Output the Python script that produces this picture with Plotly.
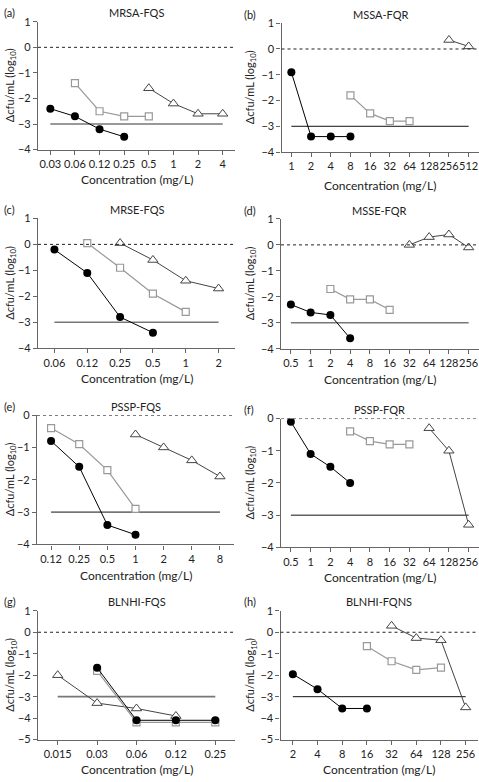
import plotly.graph_objects as go

N = None
# ---------------- data ----------------
a_conc = ["0.03", "0.06", "0.12", "0.25", "0.5", "1", "2", "4"]
a_circle = [-2.4, -2.7, -3.2, -3.5, N, N, N, N]
a_square = [N, -1.4, -2.5, -2.7, -2.7, N, N, N]
a_triangle = [N, N, N, N, -1.6, -2.2, -2.6, -2.6]

b_conc = ["1", "2", "4", "8", "16", "32", "64", "128", "256", "512"]
b_circle = [-0.9, -3.4, -3.4, -3.4, N, N, N, N, N, N]
b_square = [N, N, N, -1.8, -2.5, -2.8, -2.8, N, N, N]
b_triangle = [N, N, N, N, N, N, N, N, 0.35, 0.1]

c_conc = ["0.06", "0.12", "0.25", "0.5", "1", "2"]
c_circle = [-0.2, -1.1, -2.8, -3.4, N, N]
c_square = [N, 0.05, -0.9, -1.9, -2.6, N]
c_triangle = [N, N, 0.05, -0.6, -1.4, -1.7]

d_conc = ["0.5", "1", "2", "4", "8", "16", "32", "64", "128", "256"]
d_circle = [-2.3, -2.6, -2.7, -3.6, N, N, N, N, N, N]
d_square = [N, N, -1.7, -2.1, -2.1, -2.5, N, N, N, N]
d_triangle = [N, N, N, N, N, N, 0.0, 0.3, 0.4, -0.1]

e_conc = ["0.12", "0.25", "0.5", "1", "2", "4", "8"]
e_circle = [-0.8, -1.6, -3.4, -3.7, N, N, N]
e_square = [-0.4, -0.9, -1.7, -2.9, N, N, N]
e_triangle = [N, N, N, -0.6, -1.0, -1.4, -1.9]

f_conc = ["0.5", "1", "2", "4", "8", "16", "32", "64", "128", "256"]
f_circle = [-0.1, -1.1, -1.5, -2.0, N, N, N, N, N, N]
f_square = [N, N, N, -0.4, -0.7, -0.8, -0.8, N, N, N]
f_triangle = [N, N, N, N, N, N, N, -0.3, -1.0, -3.3]

g_conc = ["0.015", "0.03", "0.06", "0.12", "0.25"]
g_circle = [N, -1.65, -4.1, -4.1, -4.1]
g_square = [N, -1.8, -4.2, -4.2, -4.2]
g_triangle = [-2.0, -3.3, -3.55, -3.9, N]

h_conc = ["2", "4", "8", "16", "32", "64", "128", "256"]
h_circle = [-1.95, -2.65, -3.55, -3.55, N, N, N, N]
h_square = [N, N, N, -0.65, -1.35, -1.75, -1.65, N]
h_triangle = [N, N, N, N, 0.3, -0.27, -0.37, -3.5]

titles = ["MRSA-FQS", "MSSA-FQR", "MRSE-FQS", "MSSE-FQR",
          "PSSP-FQS", "PSSP-FQR", "BLNHI-FQS", "BLNHI-FQNS"]
labels = ["(a)", "(b)", "(c)", "(d)", "(e)", "(f)", "(g)", "(h)"]
y_ranges = [(-4, 1), (-4, 1), (-4, 1), (-4, 1), (-4, 0), (-4, 0), (-5, 1), (-5, 1)]
threshold = -3
x_title = "Concentration (mg/L)"
y_title = "Δcfu/mL (log<sub>10</sub>)"

panels = [
    (a_conc, a_circle, a_square, a_triangle),
    (b_conc, b_circle, b_square, b_triangle),
    (c_conc, c_circle, c_square, c_triangle),
    (d_conc, d_circle, d_square, d_triangle),
    (e_conc, e_circle, e_square, e_triangle),
    (f_conc, f_circle, f_square, f_triangle),
    (g_conc, g_circle, g_square, g_triangle),
    (h_conc, h_circle, h_square, h_triangle),
]

# ---------------- layout (pixels) ----------------
W, H = 479, 782
# (x0, x1, ytop, ybottom) of each plot area
boxes = [
    (38, 235, 15, 145), (281.5, 478.5, 16.5, 147.5),
    (38, 235, 215, 347), (281, 478.5, 215.5, 347.5),
    (37, 234, 415, 546.5), (281, 478.5, 418.5, 549.5),
    (38, 235, 614, 745), (280.5, 478, 614, 745),
]
xtitle_y = [175, 181.5, 377.5, 378.5, 578.5, 580, 775.5, 775.5]
thr_color = ["#777", "#111", "#777", "#777", "#111", "#111", "#777", "#111"]
thr_width = [1.6, 1, 1.6, 1.6, 1, 1, 1.6, 1]

FONT = "Lato"
fig = go.Figure()
annotations = []
shapes = []

for i, (conc, circ, sq, tri) in enumerate(panels):
    k = i + 1
    xa = "x" if k == 1 else f"x{k}"
    ya = "y" if k == 1 else f"y{k}"
    x0, x1, yt, yb = boxes[i]
    n = len(conc)
    # threshold line
    fig.add_trace(go.Scatter(x=[conc[0], conc[-1]], y=[threshold, threshold], mode="lines",
                             line=dict(color=thr_color[i], width=thr_width[i]),
                             xaxis=xa, yaxis=ya, showlegend=False, hoverinfo="skip"))
    fig.add_trace(go.Scatter(x=conc, y=tri, mode="lines+markers",
                             line=dict(color="#444", width=1),
                             marker=dict(symbol="triangle-up", size=9, color="white",
                                         line=dict(color="#444", width=1)),
                             xaxis=xa, yaxis=ya, showlegend=False))
    fig.add_trace(go.Scatter(x=conc, y=sq, mode="lines+markers",
                             line=dict(color="#999", width=1.2),
                             marker=dict(symbol="square", size=7, color="white",
                                         line=dict(color="#999", width=1.2)),
                             xaxis=xa, yaxis=ya, showlegend=False))
    fig.add_trace(go.Scatter(x=conc, y=circ, mode="lines+markers",
                             line=dict(color="black", width=1),
                             marker=dict(symbol="circle", size=8, color="black"),
                             xaxis=xa, yaxis=ya, showlegend=False))

    lo, hi = y_ranges[i]
    axcommon = dict(showgrid=False, zeroline=False, showline=True, linecolor="#666",
                    linewidth=1.2, ticks="outside", ticklen=4, tickcolor="#666",
                    tickfont=dict(family=FONT, size=11, color="#222"))
    fig.layout[("xaxis" if k == 1 else f"xaxis{k}")] = dict(
        axcommon, type="category", categoryarray=conc, categoryorder="array", tickangle=0,
        range=[-0.5, n - 0.5], domain=[x0 / W, x1 / W], anchor=ya, fixedrange=True)
    fig.layout[("yaxis" if k == 1 else f"yaxis{k}")] = dict(
        axcommon, range=[lo, hi], tickvals=list(range(lo, hi + 1)),
        domain=[1 - yb / H, 1 - yt / H], anchor=xa, fixedrange=True)

    # dotted zero line
    shapes.append(dict(type="line", xref=f"{xa} domain", yref=ya, x0=0, x1=1, y0=0, y1=0,
                       line=dict(color="#222", width=1, dash="dot")))

    cx = (x0 + x1) / 2
    col_left = 0 if x0 < 200 else 240
    # title
    annotations.append(dict(text=titles[i], x=cx / W, y=1 - (yt - 9) / H, xref="paper", yref="paper",
                            showarrow=False, font=dict(family=FONT, size=11, color="#222"),
                            xanchor="center", yanchor="middle"))
    annotations.append(dict(text=labels[i], x=(col_left + 2) / W, y=1 - (yt - 9) / H,
                            xref="paper", yref="paper", showarrow=False,
                            font=dict(family=FONT, size=11, color="#222"),
                            xanchor="left", yanchor="middle"))
    # axis titles
    annotations.append(dict(text=x_title, x=cx / W, y=1 - xtitle_y[i] / H, xref="paper", yref="paper",
                            showarrow=False, font=dict(family=FONT, size=12, color="#222"),
                            xanchor="center", yanchor="middle"))
    annotations.append(dict(text=y_title, x=(col_left + 10.5) / W, y=1 - ((yt + yb) / 2) / H,
                            xref="paper", yref="paper", showarrow=False, textangle=-90,
                            font=dict(family=FONT, size=11, color="#222"),
                            xanchor="center", yanchor="middle"))

fig.update_layout(width=W, height=H, margin=dict(l=0, r=0, t=0, b=0),
                  paper_bgcolor="white", plot_bgcolor="white",
                  annotations=annotations, shapes=shapes, showlegend=False)
fig.write_html("out.html", config={"displayModeBar": False},
               post_script="document.body.style.margin='0';document.body.style.overflow='hidden';")
